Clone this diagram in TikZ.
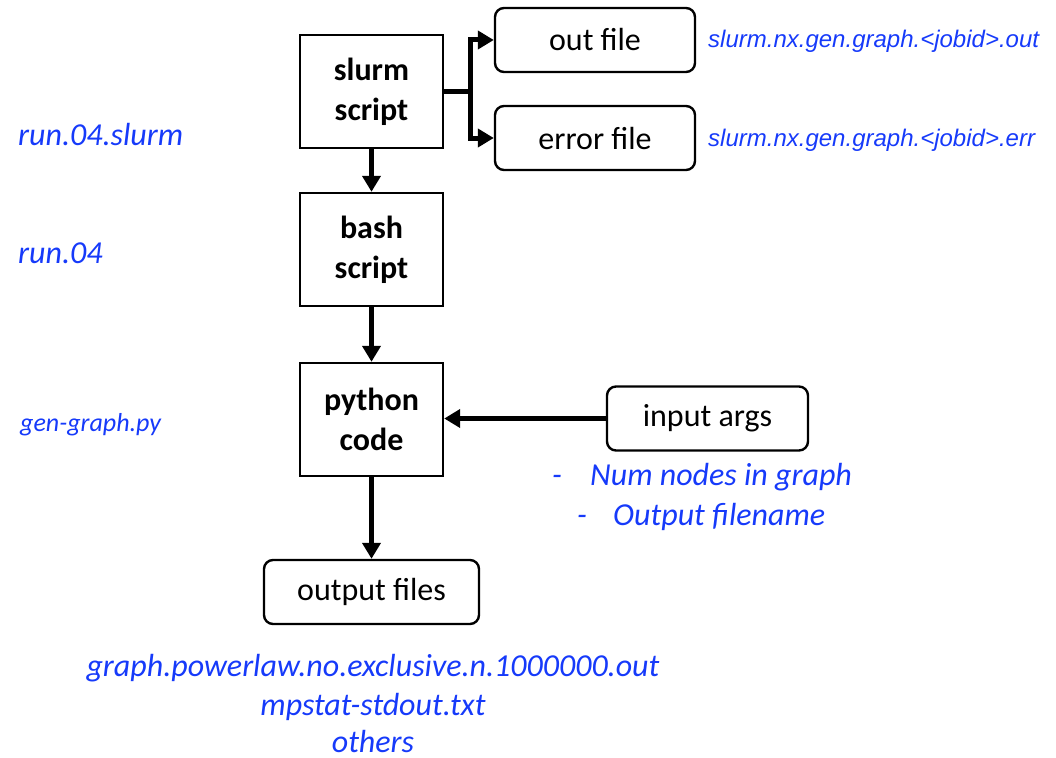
\documentclass[tikz,border=0pt]{standalone}
\usepackage{fontspec}
\setmainfont{Carlito}
\newfontfamily\arialfont{Liberation Sans}
\usetikzlibrary{arrows.meta}
\definecolor{linkblue}{RGB}{22,58,250}
\tikzset{
  stepbox/.style={draw, line width=2.4pt, minimum width=143pt, minimum height=113pt,
    align=center, font=\fontsize{32}{40}\selectfont\bfseries, inner sep=0pt},
  filebox/.style={draw, line width=2.4pt, rounded corners=9pt, minimum height=64pt,
    align=center, font=\fontsize{32}{36}\selectfont, inner sep=0pt},
  flow/.style={line width=5pt, -{Triangle[length=16pt,width=18pt]}},
  note/.style={text=linkblue, font=\fontsize{32}{38}\selectfont\itshape, inner sep=0pt},
  smallnote/.style={text=linkblue, font=\fontsize{26}{30}\selectfont\itshape, inner sep=0pt},
  arialnote/.style={text=linkblue, font=\arialfont\fontsize{24}{28}\selectfont\itshape, inner sep=0pt},
}
\begin{document}
\begin{tikzpicture}[x=1pt,y=-1pt]
\useasboundingbox (0,0) rectangle (1056,757);

% main pipeline
\node[stepbox] (slurm)  at (371.5,91.5)  {slurm\\script};
\node[stepbox] (bash)   at (371.5,249.5) {bash\\script};
\node[stepbox] (python) at (371.5,419.5) {python\\code};

% files and arguments
\node[filebox, minimum width=200pt] (out)    at (595,40)  {out file};
\node[filebox, minimum width=200pt] (err)    at (595,138) {error file};
\node[filebox, minimum width=201pt] (args)   at (707.5,418.5) {input args};
\node[filebox, minimum width=215pt] (output) at (371.5,592) {output files};

% connectors
\coordinate (split) at (470,91.5);
\draw[line width=5pt] (slurm.east) -- (split);
\draw[flow] ([yshift=-2.5pt]split) |- (out.west);
\draw[flow] ([yshift=2.5pt]split) |- (err.west);
\draw[flow] (slurm.south) -- (bash.north);
\draw[flow] (bash.south) -- (python.north);
\draw[flow] (args.west) -- (python.east |- args.west);
\draw[flow] (python.south) -- (output.north);

% annotations (placed on their baselines)
\node[note, anchor=base west] (lslurm) at (18,145) {run.04.slurm};
\node[note, anchor=base west] (lbash)  at (18,263) {run.04};
\node[smallnote, anchor=base west] (lpy) at (20,431) {gen-graph.py};
\node[arialnote, anchor=base west] (lout) at (708,48)  {slurm.nx.gen.graph.<jobid>.out};
\node[arialnote, anchor=base west] (lerr) at (708,146) {slurm.nx.gen.graph.<jobid>.err};

\node[note, anchor=base west] (d1) at (552,485) {-};
\node[note, anchor=base west] (a1) at (590,485) {Num nodes in graph};
\node[note, anchor=base west] (d2) at (577,525) {-};
\node[note, anchor=base west] (a2) at (613,525) {Output filename};

\node[note, anchor=base] (o1) at (373,676) {graph.powerlaw.no.exclusive.n.1000000.out};
\node[note, anchor=base] (o2) at (373,715) {mpstat-stdout.txt};
\node[note, anchor=base] (o3) at (373,752) {others};
\end{tikzpicture}
\end{document}
